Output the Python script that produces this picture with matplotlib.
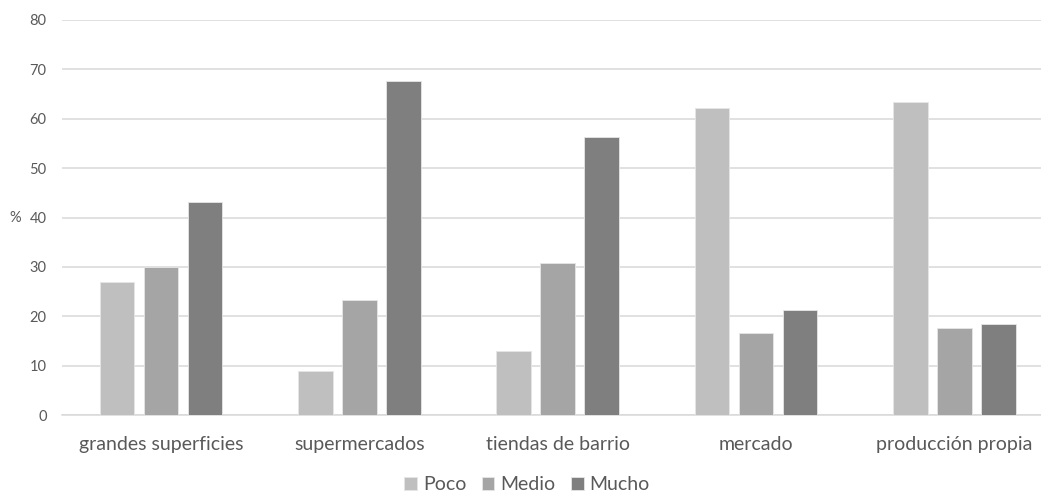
import matplotlib
matplotlib.use('Agg')
import matplotlib.pyplot as plt
import numpy as np

plt.rcParams['font.family'] = ['Lato', 'DejaVu Sans']

# Survey results per purchase channel (%)
categories = ['grandes superficies', 'supermercados', 'tiendas de barrio', 'mercado', 'producción propia']
series_names = ['Poco', 'Medio', 'Mucho']
poco = [27.0, 8.9, 13.0, 62.1, 63.4]
medio = [30.0, 23.3, 30.8, 16.6, 17.7]
mucho = [43.1, 67.7, 56.2, 21.3, 18.4]
yticks = [0, 10, 20, 30, 40, 50, 60, 70, 80]

bar_colors = ['#bfbfbf', '#a5a5a5', '#7f7f7f']
text_color = '#595959'
grid_color = '#d9d9d9'

fig = plt.figure(figsize=(10.41, 4.92), dpi=100)
ax = fig.add_axes([62/1041, 76.7/492, 991.5/1041, 395.6/492])

x = np.arange(len(categories))
offset = 0.222
width = 0.1745
for k, vals in enumerate([poco, medio, mucho]):
    ax.bar(x + (k - 1) * offset, vals, width, color=bar_colors[k],
           edgecolor='#e6e6e6', linewidth=0.6, label=series_names[k], zorder=3)

ax.set_xlim(-0.5, len(categories) - 0.5)
ax.set_ylim(0, 80)
ax.set_yticks(yticks)
ax.yaxis.grid(True, color=grid_color, linewidth=1.1, zorder=0)
ax.set_axisbelow(True)
for s in ['top', 'right', 'left']:
    ax.spines[s].set_visible(False)
ax.spines['bottom'].set_color(grid_color)
ax.spines['bottom'].set_linewidth(1.1)

ax.set_xticks(x)
ax.set_xticklabels(categories, fontsize=14, color=text_color)
ax.tick_params(axis='x', length=0, pad=15)
ax.tick_params(axis='y', length=0, pad=11, labelsize=10.5, labelcolor=text_color)

ax.set_ylabel('%', rotation=0, fontsize=10.5, color=text_color)
ax.yaxis.set_label_coords(-0.047, 0.48)

fig.legend(loc='center', bbox_to_anchor=(527/1041, 1 - 485/492), ncol=3,
           frameon=False, fontsize=14, handlelength=0.65, handleheight=0.65,
           handletextpad=0.3, columnspacing=0.8, labelcolor=text_color)

plt.savefig('out.png', dpi=100)
